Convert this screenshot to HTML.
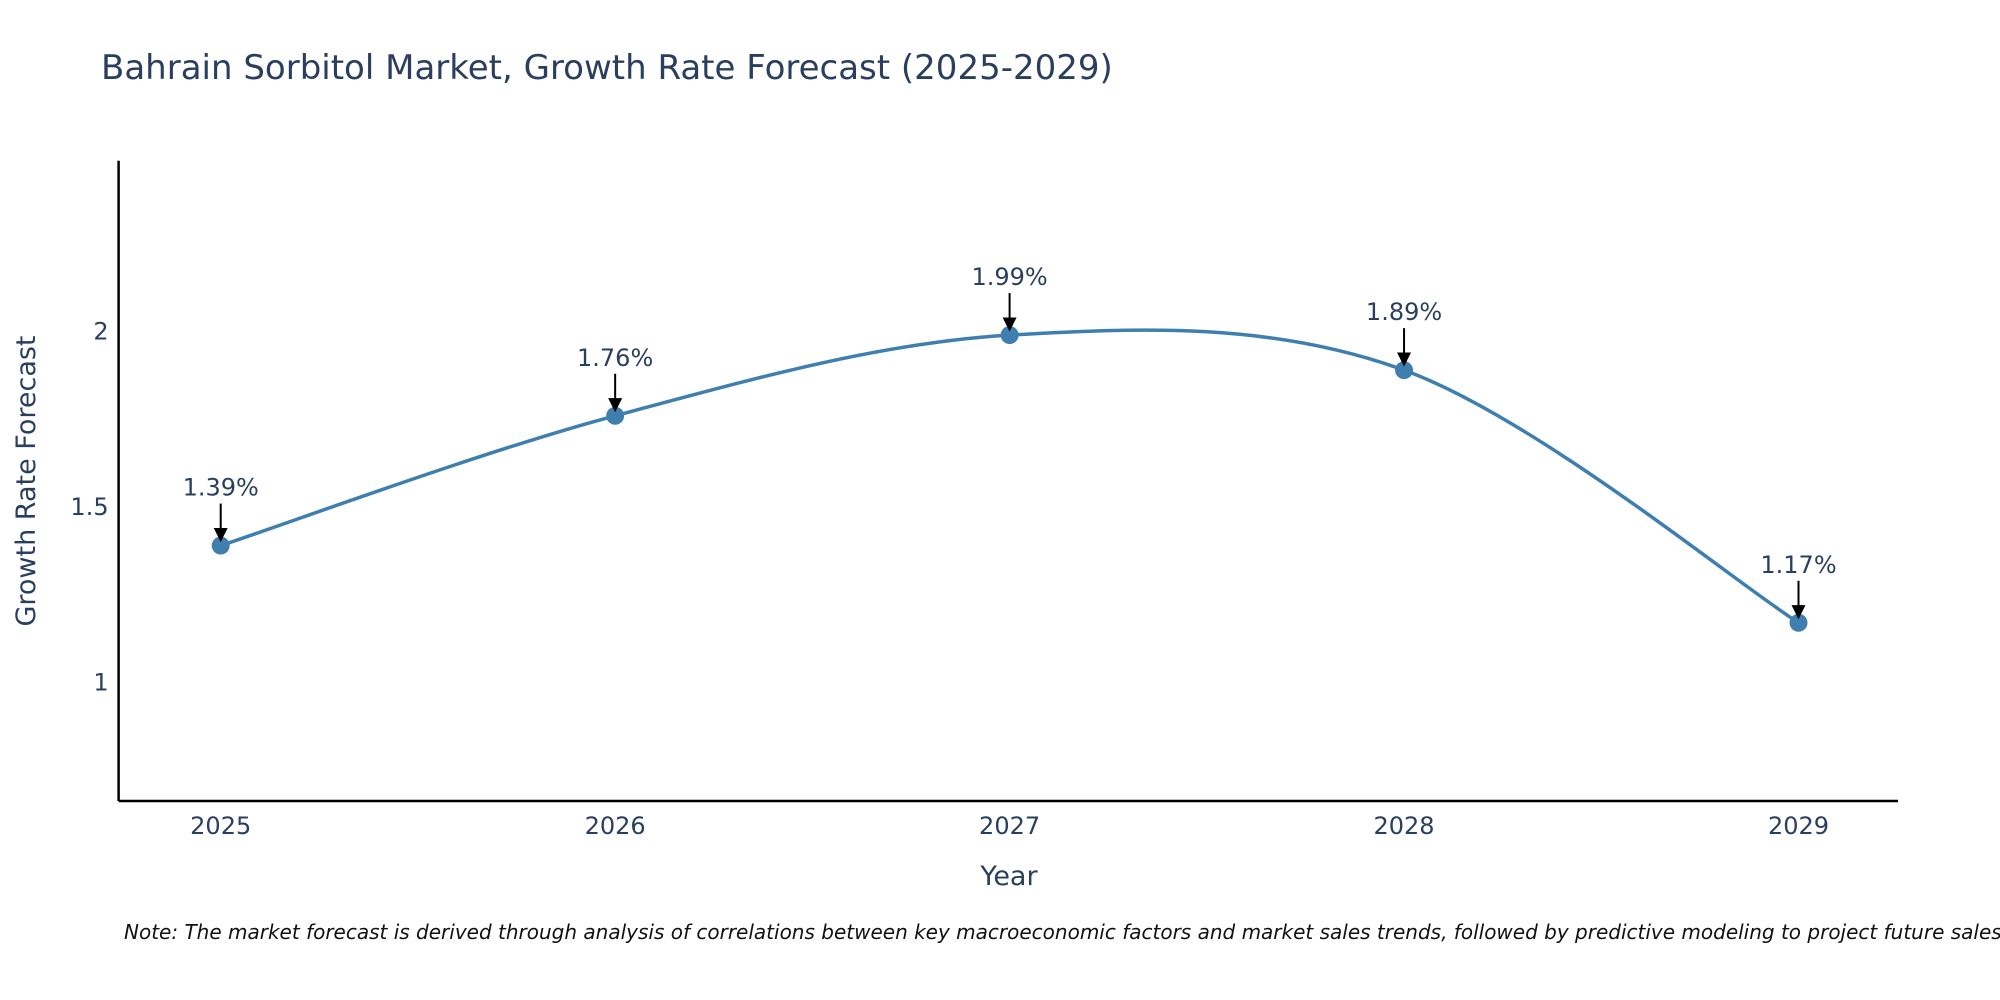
<!DOCTYPE html>
<html><head><meta charset="utf-8"><style>
html,body{margin:0;padding:0;background:#fff;overflow:hidden;}
svg{display:block;font-family:"DejaVu Sans","Liberation Sans",sans-serif;}
</style></head><body>
<svg id="chart" width="2000" height="1000" viewBox="0 0 2000 1000">
<text x="101" y="79" font-size="34" fill="#2a3f5f">Bahrain Sorbitol Market, Growth Rate Forecast (2025-2029)</text>
<g id="plot"></g>
<text transform="translate(35,481) rotate(-90)" text-anchor="middle" font-size="27" fill="#2a3f5f">Growth Rate Forecast</text>
<text x="1009" y="885" text-anchor="middle" font-size="27" fill="#2a3f5f">Year</text>
<text x="124" y="939" font-size="20" font-style="italic" fill="#111">Note: The market forecast is derived through analysis of correlations between key macroeconomic factors and market sales trends, followed by predictive modeling to project future sales.</text>
</svg>
<script>
const categories = ["2025","2026","2027","2028","2029"];
const values = [1.39, 1.76, 1.99, 1.89, 1.17];
const labels = ["1.39%","1.76%","1.99%","1.89%","1.17%"];
const yTicks = [1, 1.5, 2];
const yTickLabels = ["1","1.5","2"];

const NS="http://www.w3.org/2000/svg";
const g=document.getElementById('plot');
const L=118.6,R=1898,T=160.7,B=801;
const yMin=0.662,yMax=2.487;
const x0=220.7,x1=1798.5;
function xs(i){return x0+(x1-x0)*i/(categories.length-1);}
function ys(v){return B-(v-yMin)/(yMax-yMin)*(B-T);}
function mk(tag,attrs){const e=document.createElementNS(NS,tag);for(const k in attrs)e.setAttribute(k,attrs[k]);g.appendChild(e);return e;}

const defs=mk('defs',{});
defs.innerHTML='<marker id="ah" viewBox="0 0 10 10" refX="9" refY="5" markerWidth="7" markerHeight="7" orient="auto"><path d="M0,0 L10,5 L0,10 z" fill="#000"/></marker>';

let ax=mk('line',{x1:L,y1:T,x2:L,y2:B,stroke:'#000','stroke-width':2.5});


ax=mk('line',{x1:L,y1:B,x2:R,y2:B,stroke:'#000','stroke-width':2.5});



yTicks.forEach((v,i)=>{
  const t=mk('text',{x:L-10,y:ys(v)+8,'text-anchor':'end','font-size':24,fill:'#2a3f5f'});
  t.textContent=yTickLabels[i];
  
  
});
categories.forEach((c,i)=>{
  const t=mk('text',{x:xs(i),y:834,'text-anchor':'middle','font-size':24,fill:'#2a3f5f'});
  t.textContent=c;
  
  
});

const pts=values.map((v,i)=>[xs(i),ys(v)]);
let d='M'+pts[0][0]+','+pts[0][1];
for(let i=0;i<pts.length-1;i++){
  const p0=pts[Math.max(0,i-1)],p1=pts[i],p2=pts[i+1],p3=pts[Math.min(pts.length-1,i+2)];
  const k=1/6;
  const c1=[p1[0]+(p2[0]-p0[0])*k,p1[1]+(p2[1]-p0[1])*k];
  const c2=[p2[0]-(p3[0]-p1[0])*k,p2[1]-(p3[1]-p1[1])*k];
  d+=' C'+c1+' '+c2+' '+p2;
}
const line=mk('path',{d:d,fill:'none',stroke:'#3f7fb0','stroke-width':3.5});



pts.forEach((p,i)=>{
  const c=mk('circle',{cx:p[0],cy:p[1],r:9,fill:'#3f7fb0'});
  
  
  const a=mk('line',{x1:p[0],y1:p[1]-42,x2:p[0],y2:p[1]-5,stroke:'#000','stroke-width':2,'marker-end':'url(#ah)'});
  
  
  const t=mk('text',{x:p[0],y:p[1]-50,'text-anchor':'middle','font-size':24,fill:'#2a3f5f'});
  t.textContent=labels[i];
  
  
});
</script>
</body></html>
